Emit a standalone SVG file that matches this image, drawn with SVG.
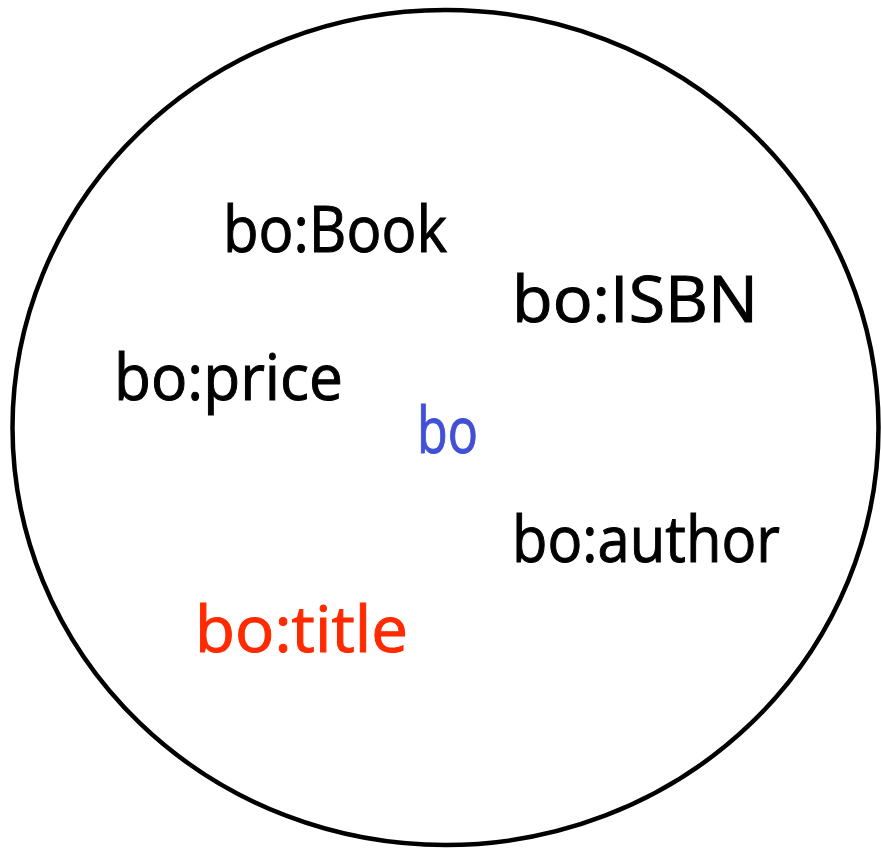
<svg xmlns="http://www.w3.org/2000/svg" width="881" height="851" viewBox="0 0 881 851">
  <style>
    .lbl { font-family: "Comic Sans MS", "Open Sans", "DejaVu Sans", sans-serif; font-size: 64px; fill: #000; stroke: #000; stroke-width: 1; }
    .ns { fill: #4150d6; stroke: #4150d6; }
    .hi { fill: #ff2a00; stroke: #ff2a00; }
  </style>
  <rect width="881" height="851" fill="#fff"/>
  <!-- namespace boundary -->
  <ellipse id="namespace" cx="445.5" cy="427.5" rx="433" ry="417.5" fill="none" stroke="#000" stroke-width="4.5"/>
  <g id="n-book"><text class="lbl" x="223" y="252" textLength="224" lengthAdjust="spacingAndGlyphs">bo:Book</text></g>
  <g id="n-isbn"><text class="lbl" x="512" y="322" textLength="246" lengthAdjust="spacingAndGlyphs">bo:ISBN</text></g>
  <g id="n-price"><text class="lbl" x="114" y="400" textLength="229" lengthAdjust="spacingAndGlyphs">bo:price</text></g>
  <g id="n-bo"><text class="lbl ns" x="417" y="453" textLength="61" lengthAdjust="spacingAndGlyphs">bo</text></g>
  <g id="n-author"><text class="lbl" x="512" y="562" textLength="268" lengthAdjust="spacingAndGlyphs">bo:author</text></g>
  <g id="n-title"><text class="lbl hi" x="195" y="652" textLength="213" lengthAdjust="spacingAndGlyphs">bo:title</text></g>
  <g id="connectors"></g>
</svg>
